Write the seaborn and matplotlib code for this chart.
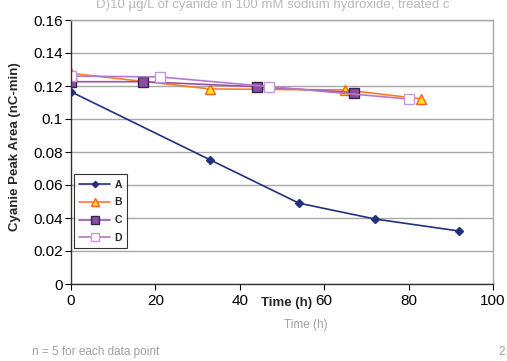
import pandas as pd
import seaborn as sns
import matplotlib.pyplot as plt

# Data
time_a = [0, 33, 54, 72, 92]
area_a = [0.1165, 0.0752, 0.0490, 0.0394, 0.0321]

time_b = [0, 33, 65, 83]
area_b = [0.1277, 0.1182, 0.1176, 0.1122]

time_c = [0, 17, 44, 67]
area_c = [0.1226, 0.1226, 0.1196, 0.1160]

time_d = [0, 21, 47, 80]
area_d = [0.1260, 0.1255, 0.1196, 0.1121]

series_names = ["A", "B", "C", "D"]
x_ticks = [0, 20, 40, 60, 80, 100]
y_ticks = [0, 0.02, 0.04, 0.06, 0.08, 0.1, 0.12, 0.14, 0.16]

sns.set_style("white")
plt.rcParams["font.family"] = ["Liberation Sans", "DejaVu Sans"]

fig = plt.figure(figsize=(5.07, 3.61), dpi=100)
ax = fig.add_axes([71 / 507, 77 / 361, 422 / 507, 264 / 361])

styles = {
    "A": dict(color="#22307f", marker="D", markersize=4, markerfacecolor="#22307f",
              markeredgecolor="#22307f"),
    "B": dict(color="#ff7a2a", marker="^", markersize=6.5, markerfacecolor="#ffe21a",
              markeredgecolor="#ff6020"),
    "C": dict(color="#9a52a8", marker="s", markersize=6.5, markerfacecolor="#8e4b9f",
              markeredgecolor="#2e2a4e"),
    "D": dict(color="#b877c8", marker="s", markersize=6.5, markerfacecolor="white",
              markeredgecolor="#c898da"),
}
data = {"A": (time_a, area_a), "B": (time_b, area_b),
        "C": (time_c, area_c), "D": (time_d, area_d)}

for name in series_names:
    t, a = data[name]
    df = pd.DataFrame({"time": t, "area": a})
    st = styles[name]
    sns.lineplot(data=df, x="time", y="area", ax=ax, label=name, linewidth=1.2,
                 color=st["color"], marker=st["marker"], markersize=st["markersize"],
                 markerfacecolor=st["markerfacecolor"], markeredgecolor=st["markeredgecolor"],
                 markeredgewidth=1.0)

ax.set_xlim(0, 100)
ax.set_ylim(0, 0.16)
ax.set_xticks(x_ticks)
ax.set_yticks(y_ticks)
ax.set_yticklabels(["0", "0.02", "0.04", "0.06", "0.08", "0.1", "0.12", "0.14", "0.16"])
ax.yaxis.grid(True, color="#a8a8a8", linewidth=1.0)
ax.set_axisbelow(True)
ax.tick_params(axis="both", labelsize=11, direction="out", length=4, width=0.8,
               colors="black", pad=2)
ax.tick_params(axis="x", bottom=True, pad=3)
ax.tick_params(axis="y", left=True)
for side in ["left", "bottom"]:
    ax.spines[side].set_color("#333333")
    ax.spines[side].set_linewidth(1.0)
for side in ["top", "right"]:
    ax.spines[side].set_color("#a8a8a8")
    ax.spines[side].set_linewidth(1.0)

ax.set_xlabel("Time (h)", fontsize=9.5, fontweight="bold", va="top")
ax.xaxis.set_label_coords(0.51, -0.05)
ax.set_ylabel("Cyanie Peak Area (nC-min)", fontsize=9.5, fontweight="bold", va="center")
ax.yaxis.set_label_coords(-0.132, 0.52)

leg = ax.legend(loc="upper left", bbox_to_anchor=(0.007, 0.415), borderaxespad=0,
                fancybox=False, frameon=True, handlelength=3.0, handletextpad=0.4,
                labelspacing=0.75, borderpad=0.5, markerscale=0.8,
                prop={"size": 7.5, "weight": "bold"})
leg.get_frame().set_edgecolor("black")
leg.get_frame().set_linewidth(0.8)

# faint text from the surrounding page
fig.text(96 / 507, 1 - 5 / 361, "D)10 \u00b5g/L of cyanide in 100 mM sodium hydroxide, treated c",
         fontsize=9.5, color="#b8b8b8", va="center", ha="left")
fig.text(306 / 507, 1 - 325 / 361, "Time (h)", fontsize=8.5, color="#a0a0a0",
         va="center", ha="center")
fig.text(32 / 507, 1 - 352 / 361, "n = 5 for each data point", fontsize=8.5,
         color="#a0a0a0", va="center", ha="left")
fig.text(498 / 507, 1 - 352 / 361, "2", fontsize=8.5, color="#a0a0a0",
         va="center", ha="left")

fig.savefig("out.png", dpi=100)
